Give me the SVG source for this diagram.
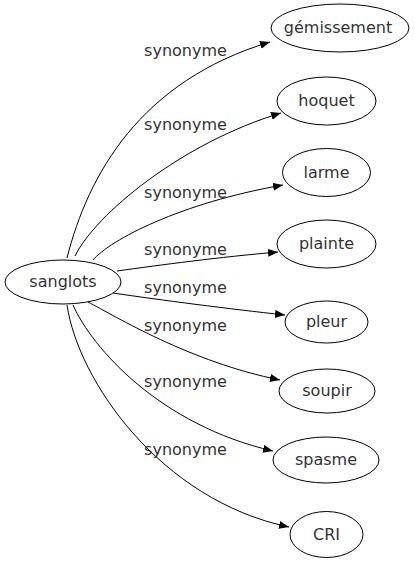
<svg xmlns="http://www.w3.org/2000/svg" width="415" height="563" viewBox="0 0 415 563">
<defs>
<style>
.node ellipse{fill:none;stroke:#000;stroke-width:1}
.node text, .lbl{font-family:"DejaVu Sans",sans-serif;font-size:16px;fill:#333}
.node text{text-anchor:middle}
.lbl{text-anchor:middle}
.edge{fill:none;stroke:#000;stroke-width:1;marker-end:url(#arr)}
</style>
<marker id="arr" markerUnits="userSpaceOnUse" markerWidth="12" markerHeight="10" refX="10" refY="4" orient="auto">
<path d="M0,0 L10,4 L0,8 Z" fill="#000"/>
</marker>
</defs>
<rect width="415" height="563" fill="#fff"/>
<g id="edges">
<path class="edge" d="M67,258 C88,175 140,81 270,42"/>
<path class="edge" d="M75,256 C95,215 181,143 281,113"/>
<path class="edge" d="M93,260 C110,240 180,203 283,185"/>
<path class="edge" d="M117,271 C160,265 220,257 278,252"/>
<path class="edge" d="M113,293 C160,300 230,309 285,315"/>
<path class="edge" d="M88,302 C115,316 190,362 280,380"/>
<path class="edge" d="M73,305 C92,348 160,425 273,451"/>
<path class="edge" d="M67,305 C78,380 160,500 289,527"/>
<text class="lbl" x="185.5" y="56">synonyme</text>
<text class="lbl" x="185.5" y="130">synonyme</text>
<text class="lbl" x="185.5" y="198">synonyme</text>
<text class="lbl" x="185.5" y="255">synonyme</text>
<text class="lbl" x="185.5" y="293">synonyme</text>
<text class="lbl" x="185.5" y="331">synonyme</text>
<text class="lbl" x="185.5" y="387">synonyme</text>
<text class="lbl" x="185.5" y="455">synonyme</text>
</g>
<g id="n-sanglots" class="node"><ellipse cx="63" cy="282" rx="58" ry="22"/><text x="63" y="287">sanglots</text></g>
<g id="n-gemissement" class="node"><ellipse cx="340" cy="28" rx="69" ry="24"/><text x="338" y="33">gémissement</text></g>
<g id="n-hoquet" class="node"><ellipse cx="326.5" cy="101" rx="49.5" ry="24"/><text x="326.5" y="106">hoquet</text></g>
<g id="n-larme" class="node"><ellipse cx="326.5" cy="172.5" rx="44" ry="24"/><text x="326.5" y="178">larme</text></g>
<g id="n-plainte" class="node"><ellipse cx="326.5" cy="244" rx="49.5" ry="24"/><text x="326.5" y="249">plainte</text></g>
<g id="n-pleur" class="node"><ellipse cx="326.5" cy="322" rx="41.5" ry="21"/><text x="326.5" y="327">pleur</text></g>
<g id="n-soupir" class="node"><ellipse cx="327" cy="391" rx="48" ry="22"/><text x="327" y="396">soupir</text></g>
<g id="n-spasme" class="node"><ellipse cx="326" cy="460" rx="53" ry="23"/><text x="326" y="465">spasme</text></g>
<g id="n-cri" class="node"><ellipse cx="326.5" cy="534.5" rx="36.5" ry="23"/><text x="326.5" y="540">CRI</text></g>
</svg>
